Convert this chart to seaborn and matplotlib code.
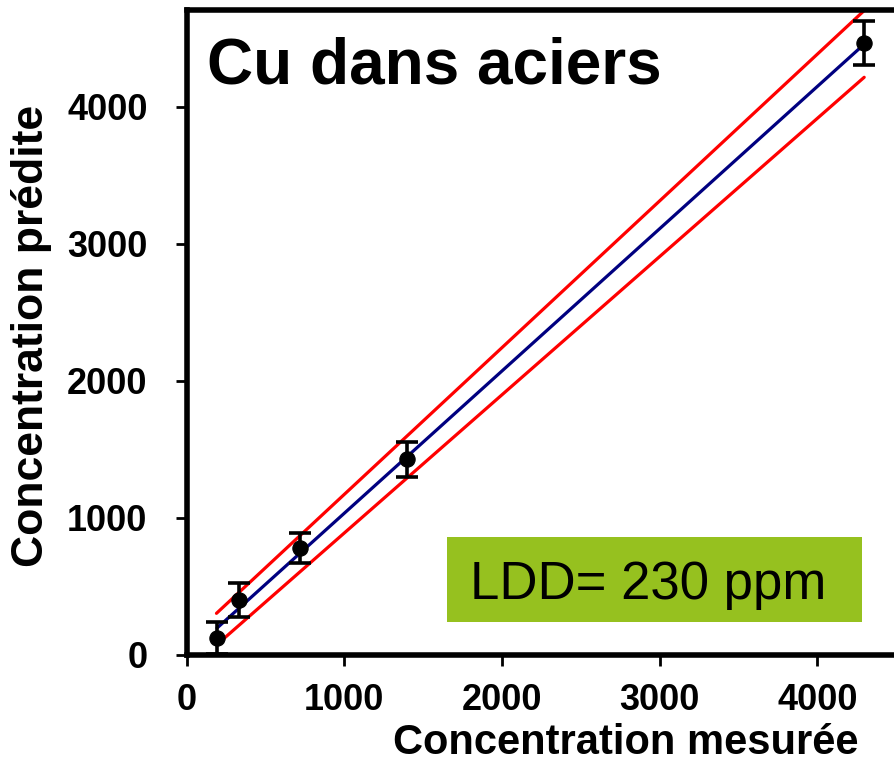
import numpy as np
import pandas as pd
import matplotlib
matplotlib.use('Agg')
from matplotlib import pyplot as plt
from matplotlib.patches import Rectangle
import seaborn as sns

# values
measured = [194, 331, 721, 1397, 4297]
predicted = [124, 401, 783, 1428, 4465]
errors = [120, 122, 110, 128, 162]

fit_x = [194, 4280]
fit_y = [197, 4440]
upper_x = [190, 4297]
upper_y = [304, 4703]
lower_x = [226, 4297]
lower_y = [109, 4216]

x_ticks = [0, 1000, 2000, 3000, 4000]
y_ticks = [0, 1000, 2000, 3000, 4000]

sns.set_style('ticks')
plt.rcParams['font.family'] = ['Liberation Sans', 'DejaVu Sans']
plt.rcParams['text.color'] = 'black'
plt.rcParams['axes.labelcolor'] = 'black'
plt.rcParams['xtick.color'] = 'black'
plt.rcParams['ytick.color'] = 'black'

points = pd.DataFrame({'measured': measured, 'predicted': predicted})

fig = plt.figure(figsize=(8.94, 7.64), dpi=100)
ax = fig.add_axes([186.5 / 894, 109 / 764, 1 - 186.5 / 894, (655 - 9.6) / 764])

sns.lineplot(x=upper_x, y=upper_y, color='#ff0000', linewidth=2.3, ax=ax)
sns.lineplot(x=lower_x, y=lower_y, color='#ff0000', linewidth=2.3, ax=ax)
sns.lineplot(x=fit_x, y=fit_y, color='#000080', linewidth=2.3, ax=ax)
ax.errorbar(measured, predicted, yerr=errors, fmt='none', ecolor='black',
            elinewidth=2.6, capsize=8, capthick=2.6, zorder=3)
sns.scatterplot(data=points, x='measured', y='predicted', color='black',
                s=120, edgecolor='black', zorder=4, ax=ax)

ax.set_xlim(0, 4486)
ax.set_ylim(0, 4710)
ax.set_xticks(x_ticks)
ax.set_yticks(y_ticks)
ax.tick_params(axis='both', direction='out', length=8, width=2, labelsize=26,
               colors='black')
ax.tick_params(axis='x', pad=12)
ax.tick_params(axis='y', pad=20)
for lab in ax.get_xticklabels() + ax.get_yticklabels():
    lab.set_fontweight('bold')

for side in ['left', 'bottom', 'top']:
    ax.spines[side].set_linewidth(4)
    ax.spines[side].set_color('black')
ax.spines['right'].set_visible(False)

ax.set_xlabel('Concentration mesurée', fontsize=30, fontweight='bold')
ax.xaxis.set_label_coords((626 - 186.5) / 707.5, -(754 - 655) / 645.4)
ax.xaxis.label.set_va('baseline')
ax.xaxis.label.set_ha('center')

ax.set_ylabel('Concentration prédite', fontsize=32, fontweight='bold')
ax.yaxis.set_label_coords((32 - 186.5) / 707.5, (655 - 336) / 645.4)
ax.yaxis.label.set_va('center')
ax.yaxis.label.set_ha('center')

fig.text(207 / 894, 1 - 83 / 764, 'Cu dans aciers', fontsize=46,
         fontweight='bold', ha='left', va='baseline')

fig.patches.append(Rectangle((447 / 894, 1 - 622 / 764), (862 - 447) / 894,
                             (622 - 537) / 764, transform=fig.transFigure,
                             facecolor='#96c11f', edgecolor='none', zorder=5))
fig.text(470 / 894, 1 - 599 / 764, 'LDD= 230 ppm', fontsize=38,
         ha='left', va='baseline', zorder=6)

plt.savefig('out.png', dpi=100)
